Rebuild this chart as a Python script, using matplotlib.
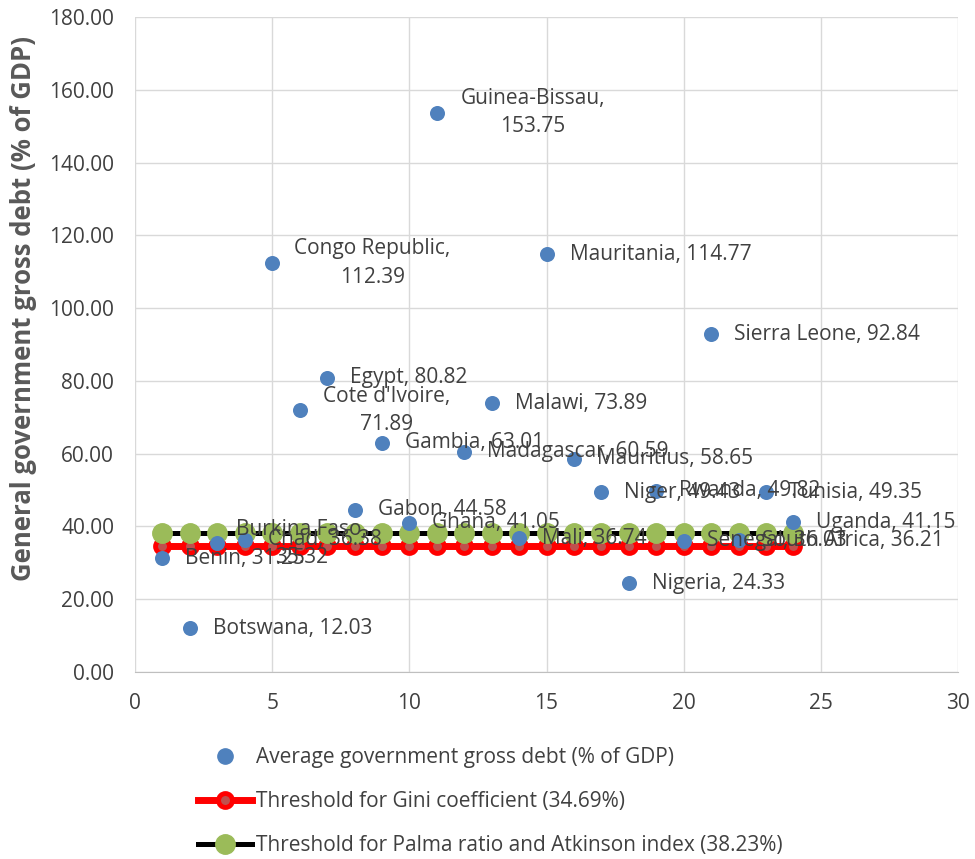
import matplotlib.pyplot as plt
from matplotlib.lines import Line2D

# data
countries = ["Benin", "Botswana", "Burkina Faso", "Chad", "Congo Republic",
             "Cote d'Ivoire", "Egypt", "Gabon", "Gambia", "Ghana",
             "Guinea-Bissau", "Madagascar", "Malawi", "Mali", "Mauritania",
             "Mauritius", "Niger", "Nigeria", "Rwanda", "Senegal",
             "Sierra Leone", "South Africa", "Tunisia", "Uganda"]
debt = [31.25, 12.03, 35.32, 36.38, 112.39, 71.89, 80.82, 44.58, 63.01, 41.05,
        153.75, 60.59, 73.89, 36.74, 114.77, 58.65, 49.43, 24.33, 49.82, 36.03,
        92.84, 36.21, 49.35, 41.15]
gini_threshold = 34.69
palma_threshold = 38.23

idx = list(range(1, len(countries) + 1))

# labels Excel wrapped onto two lines (centred, shifted right in pixels)
wrapped = {"Burkina Faso": 84, "Congo Republic": 100, "Cote d'Ivoire": 87,
           "Guinea-Bissau": 96}

plt.rcParams['font.family'] = ['Open Sans', 'DejaVu Sans']
txt_col = '#404040'
fs = 15

fig = plt.figure(figsize=(9.75, 8.59), dpi=100)
ax = fig.add_axes([0.1385, 0.2177, 0.8441, 0.7625])

red_style = dict(color='#ff0000', lw=5, marker='o', ms=10, mfc='#c0504d',
                 mec='#ff0000', mew=3.5)
green_style = dict(color='black', lw=3.6, marker='o', ms=14, mfc='#9bbb59',
                   mec='#9bbb59')

ax.plot(idx, [gini_threshold] * len(idx), zorder=2, **red_style)
ax.plot(idx, [palma_threshold] * len(idx), zorder=3, **green_style)
ax.scatter(idx, debt, s=117, color='#4f81bd', zorder=4, linewidths=0)

for i, name, v in zip(idx, countries, debt):
    if name in wrapped:
        ax.annotate(f"{name},\n{v:.2f}", (i, v), xytext=(wrapped[name], 0),
                    textcoords='offset pixels', ha='center', va='center',
                    fontsize=fs, color=txt_col, linespacing=1.45, zorder=5)
    else:
        ax.annotate(f"{name}, {v:.2f}", (i, v), xytext=(23, 0),
                    textcoords='offset pixels', ha='left', va='center',
                    fontsize=fs, color=txt_col, zorder=5)

ax.set_xlim(0, 30)
ax.set_ylim(0, 180)
ax.set_xticks(range(0, 31, 5))
ax.set_yticks(range(0, 181, 20))
ax.set_yticklabels([f"{t:.2f}" for t in range(0, 181, 20)])
ax.tick_params(labelsize=fs, colors=txt_col, length=0, pad=15)
ax.grid(True, color='#d9d9d9', lw=1)
ax.set_axisbelow(True)
for s in ['top', 'right', 'left']:
    ax.spines[s].set_visible(False)
ax.spines['bottom'].set_color('#bfbfbf')
ax.set_ylabel("General government gross debt (% of GDP)", fontsize=18.5,
              fontweight='bold', color='#595959')
ax.yaxis.set_label_coords(-0.119, 0.555)

handles = [
    Line2D([], [], ls='none', marker='o', ms=11, color='#4f81bd'),
    Line2D([], [], **red_style),
    Line2D([], [], **green_style),
]
labels = ["Average government gross debt (% of GDP)",
          "Threshold for Gini coefficient (34.69%)",
          "Threshold for Palma ratio and Atkinson index (38.23%)"]
fig.legend(handles, labels, loc='upper left', bbox_to_anchor=(0.192, 0.142),
           frameon=False, fontsize=fs, labelcolor=txt_col, handlelength=2.6,
           handletextpad=0.2, labelspacing=1.1, borderpad=0)

fig.savefig('out.png', dpi=100)
